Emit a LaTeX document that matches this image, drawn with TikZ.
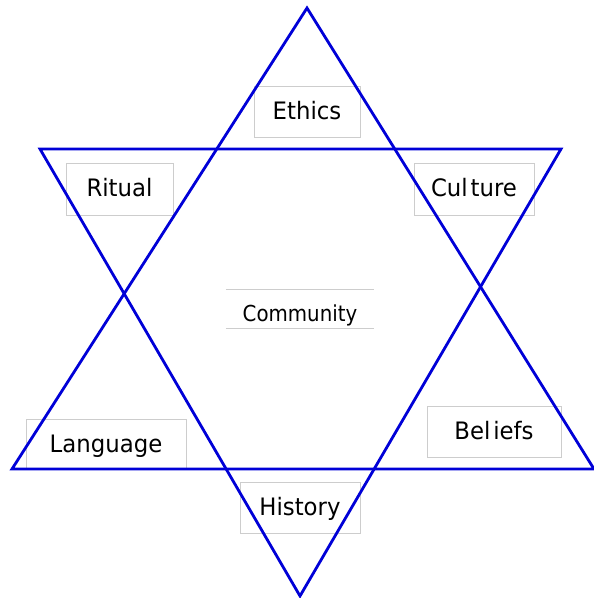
\documentclass[tikz,border=0pt]{standalone}
\usepackage{xcolor}
\usepackage{fontspec}
\setmainfont{DejaVu Sans}[FakeStretch=0.95]
\newfontfamily\narrowfont{DejaVu Sans}[FakeStretch=0.9]
\definecolor{starblue}{RGB}{0,0,215}
\definecolor{boxgray}{RGB}{205,205,205}

\begin{document}
\begin{tikzpicture}[x=1pt, y=-1pt,
    label box/.style={rectangle, draw=boxgray, line width=0.8pt, fill=white, inner sep=0pt,
        text height=17.5pt, text depth=2pt, font=\fontsize{24}{28}\selectfont},
    star line/.style={draw=starblue, line width=2.8pt, line join=miter}]
    \useasboundingbox (0,0) rectangle (594,598);
    % corners of the two triangles
    \coordinate (up top) at (307,8);
    \coordinate (up left) at (12,469);
    \coordinate (up right) at (594,469);
    \coordinate (down left) at (40,149);
    \coordinate (down right) at (561,149);
    \coordinate (down bottom) at (300,596);
    % labels
    \node[label box, minimum width=106pt, minimum height=51pt] (ethics) at (307,111.5) {Ethics};
    \node[label box, minimum width=107pt, minimum height=52pt] (ritual) at (119.5,189) {Ritual\hspace{5pt}};
    \node[label box, minimum width=120pt, minimum height=52pt] (culture) at (474,189) {Cul\hspace{3pt}ture};
    \node[minimum width=148pt, minimum height=38pt, inner sep=0pt] (community) at (300,309) {};
    \node[font=\narrowfont\fontsize{22}{26}\selectfont, inner sep=0pt, anchor=base] (community text) at (300,321) {Community};
    \draw[boxgray, line width=0.8pt] (community.north west) -- (community.north east);
    \draw[boxgray, line width=0.8pt] (community.south west) -- (community.south east);
    \node[label box, text depth=0pt, minimum width=160pt, minimum height=50pt] (language) at (106,444) {Language};
    \node[label box, minimum width=134pt, minimum height=51pt] (beliefs) at (494,431.5) {Bel\hspace{3pt}iefs\hspace{6pt}};
    \node[label box, minimum width=120pt, minimum height=51pt] (history) at (300,507.5) {History};
    % the star
    \draw[star line] (up top) -- (up left) -- (up right) -- cycle;
    \draw[star line] (down left) -- (down right) -- (down bottom) -- cycle;
\end{tikzpicture}
\end{document}
